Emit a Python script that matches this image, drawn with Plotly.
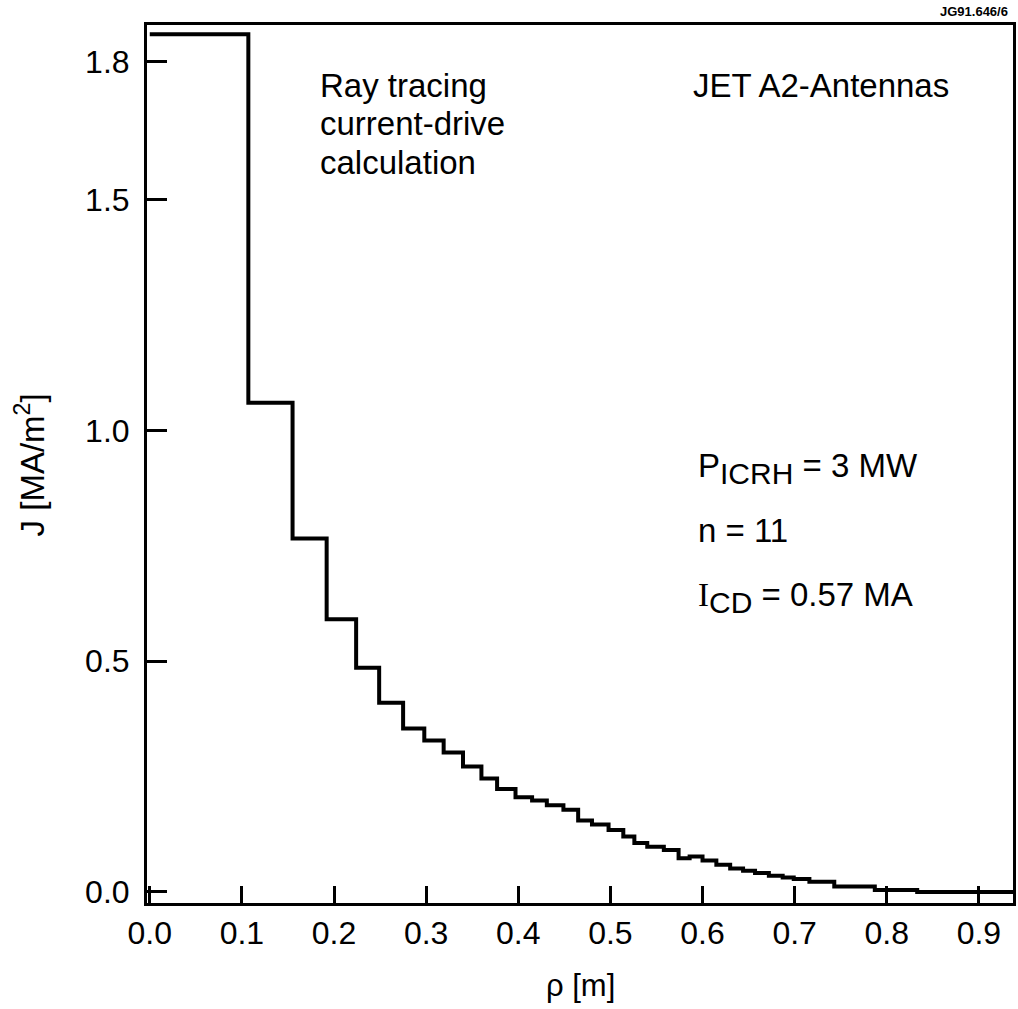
import plotly.graph_objects as go

# Step edges (rho, m) and current density values (MA/m^2)
rho_edges = [0.0, 0.107, 0.155, 0.192, 0.224, 0.249, 0.275, 0.298, 0.319, 0.340,
             0.360, 0.377, 0.397, 0.415, 0.431, 0.449, 0.465, 0.480, 0.498, 0.514,
             0.526, 0.540, 0.558, 0.574, 0.586, 0.600, 0.615, 0.630, 0.644, 0.657,
             0.672, 0.687, 0.699, 0.716, 0.743, 0.787, 0.833]
j_values = [1.859, 1.06, 0.766, 0.591, 0.486, 0.410, 0.354, 0.328, 0.302, 0.272,
            0.246, 0.223, 0.205, 0.198, 0.188, 0.178, 0.155, 0.146, 0.134, 0.120,
            0.106, 0.098, 0.091, 0.073, 0.077, 0.068, 0.059, 0.051, 0.046, 0.041,
            0.035, 0.031, 0.028, 0.022, 0.012, 0.004, 0.0]
rho_end = 0.937

x_ticks = [0.0, 0.1, 0.2, 0.3, 0.4, 0.5, 0.6, 0.7, 0.8, 0.9]
x_ticklabels = ["0.0", "0.1", "0.2", "0.3", "0.4", "0.5", "0.6", "0.7", "0.8", "0.9"]
y_ticks = [0.0, 0.5, 1.0, 1.5, 1.8]
y_ticklabels = ["0.0", "0.5", "1.0", "1.5", "1.8"]

FONT = "Liberation Sans, Arial, Helvetica, sans-serif"
TICK_FS = 32
ANN_FS = 33

xs = rho_edges + [rho_end]
ys = j_values + [j_values[-1]]

fig = go.Figure()
fig.add_trace(go.Scatter(x=xs, y=ys, mode="lines", line_shape="hv",
                         line=dict(color="black", width=4), showlegend=False,
                         hoverinfo="skip"))

axis_common = dict(showgrid=False, zeroline=False, showline=True, linecolor="black",
                   linewidth=3, mirror=True, ticks="inside", tickwidth=3,
                   tickcolor="black",
                   tickfont=dict(family=FONT, size=TICK_FS, color="black"))

fig.update_xaxes(range=[-0.003, rho_end], tickvals=x_ticks, ticktext=x_ticklabels,
                 ticklen=17, **axis_common)
fig.update_yaxes(range=[-0.024, 1.879], tickvals=y_ticks, ticktext=y_ticklabels,
                 ticklen=20, ticklabelstandoff=8, **axis_common)


def py(pix):
    """paper y from pixel row (plot area from row 25 to 903)."""
    return 1 - (pix - 25) / 878.0


def px(pix):
    """paper x from pixel column (plot area from col 147 to 1016)."""
    return (pix - 147) / 869.0


annotations = [
    dict(text="Ray tracing", x=px(319), y=py(86), xanchor="left", yanchor="middle"),
    dict(text="current-drive", x=px(319), y=py(124), xanchor="left", yanchor="middle"),
    dict(text="calculation", x=px(319), y=py(162), xanchor="left", yanchor="middle"),
    dict(text="JET A2-Antennas", x=px(693), y=py(86), xanchor="left", yanchor="middle"),
    dict(text="P<sub><span style='font-size:30px'>ICRH</span></sub> = 3 MW",
         x=px(698), y=py(468), xanchor="left", yanchor="middle"),
    dict(text="n = 11", x=px(698), y=py(530), xanchor="left", yanchor="middle"),
    dict(text="<span style='font-family:Liberation Serif'>I</span>"
              "<sub><span style='font-size:30px'>CD</span></sub> = 0.57 MA",
         x=px(698), y=py(597), xanchor="left", yanchor="middle"),
    dict(text="ρ [m]", x=0.5, y=py(985), xanchor="center", yanchor="middle"),
    dict(text="J [MA/m<sup>2</sup>]", x=px(30), y=py(465), xanchor="center",
         yanchor="middle", textangle=-90),
]
for a in annotations:
    a.update(xref="paper", yref="paper", showarrow=False, align="left",
             font=dict(family=FONT, size=ANN_FS, color="black"))
annotations[-2]["font"] = dict(family=FONT, size=31, color="black")

annotations.append(dict(text="<b>JG91.646/6</b>", xref="paper", yref="paper",
                        x=px(1013), y=1.0, xanchor="right", yanchor="bottom", yshift=4,
                        showarrow=False,
                        font=dict(family=FONT, size=13, color="black")))

fig.update_layout(width=1018, height=1009, plot_bgcolor="white", paper_bgcolor="white",
                  margin=dict(l=147, r=2, t=25, b=106), annotations=annotations)

fig.write_html("out.html", config={"displayModeBar": False},
               post_script="document.body.style.margin='0';"
                           "document.body.style.overflow='hidden';")
